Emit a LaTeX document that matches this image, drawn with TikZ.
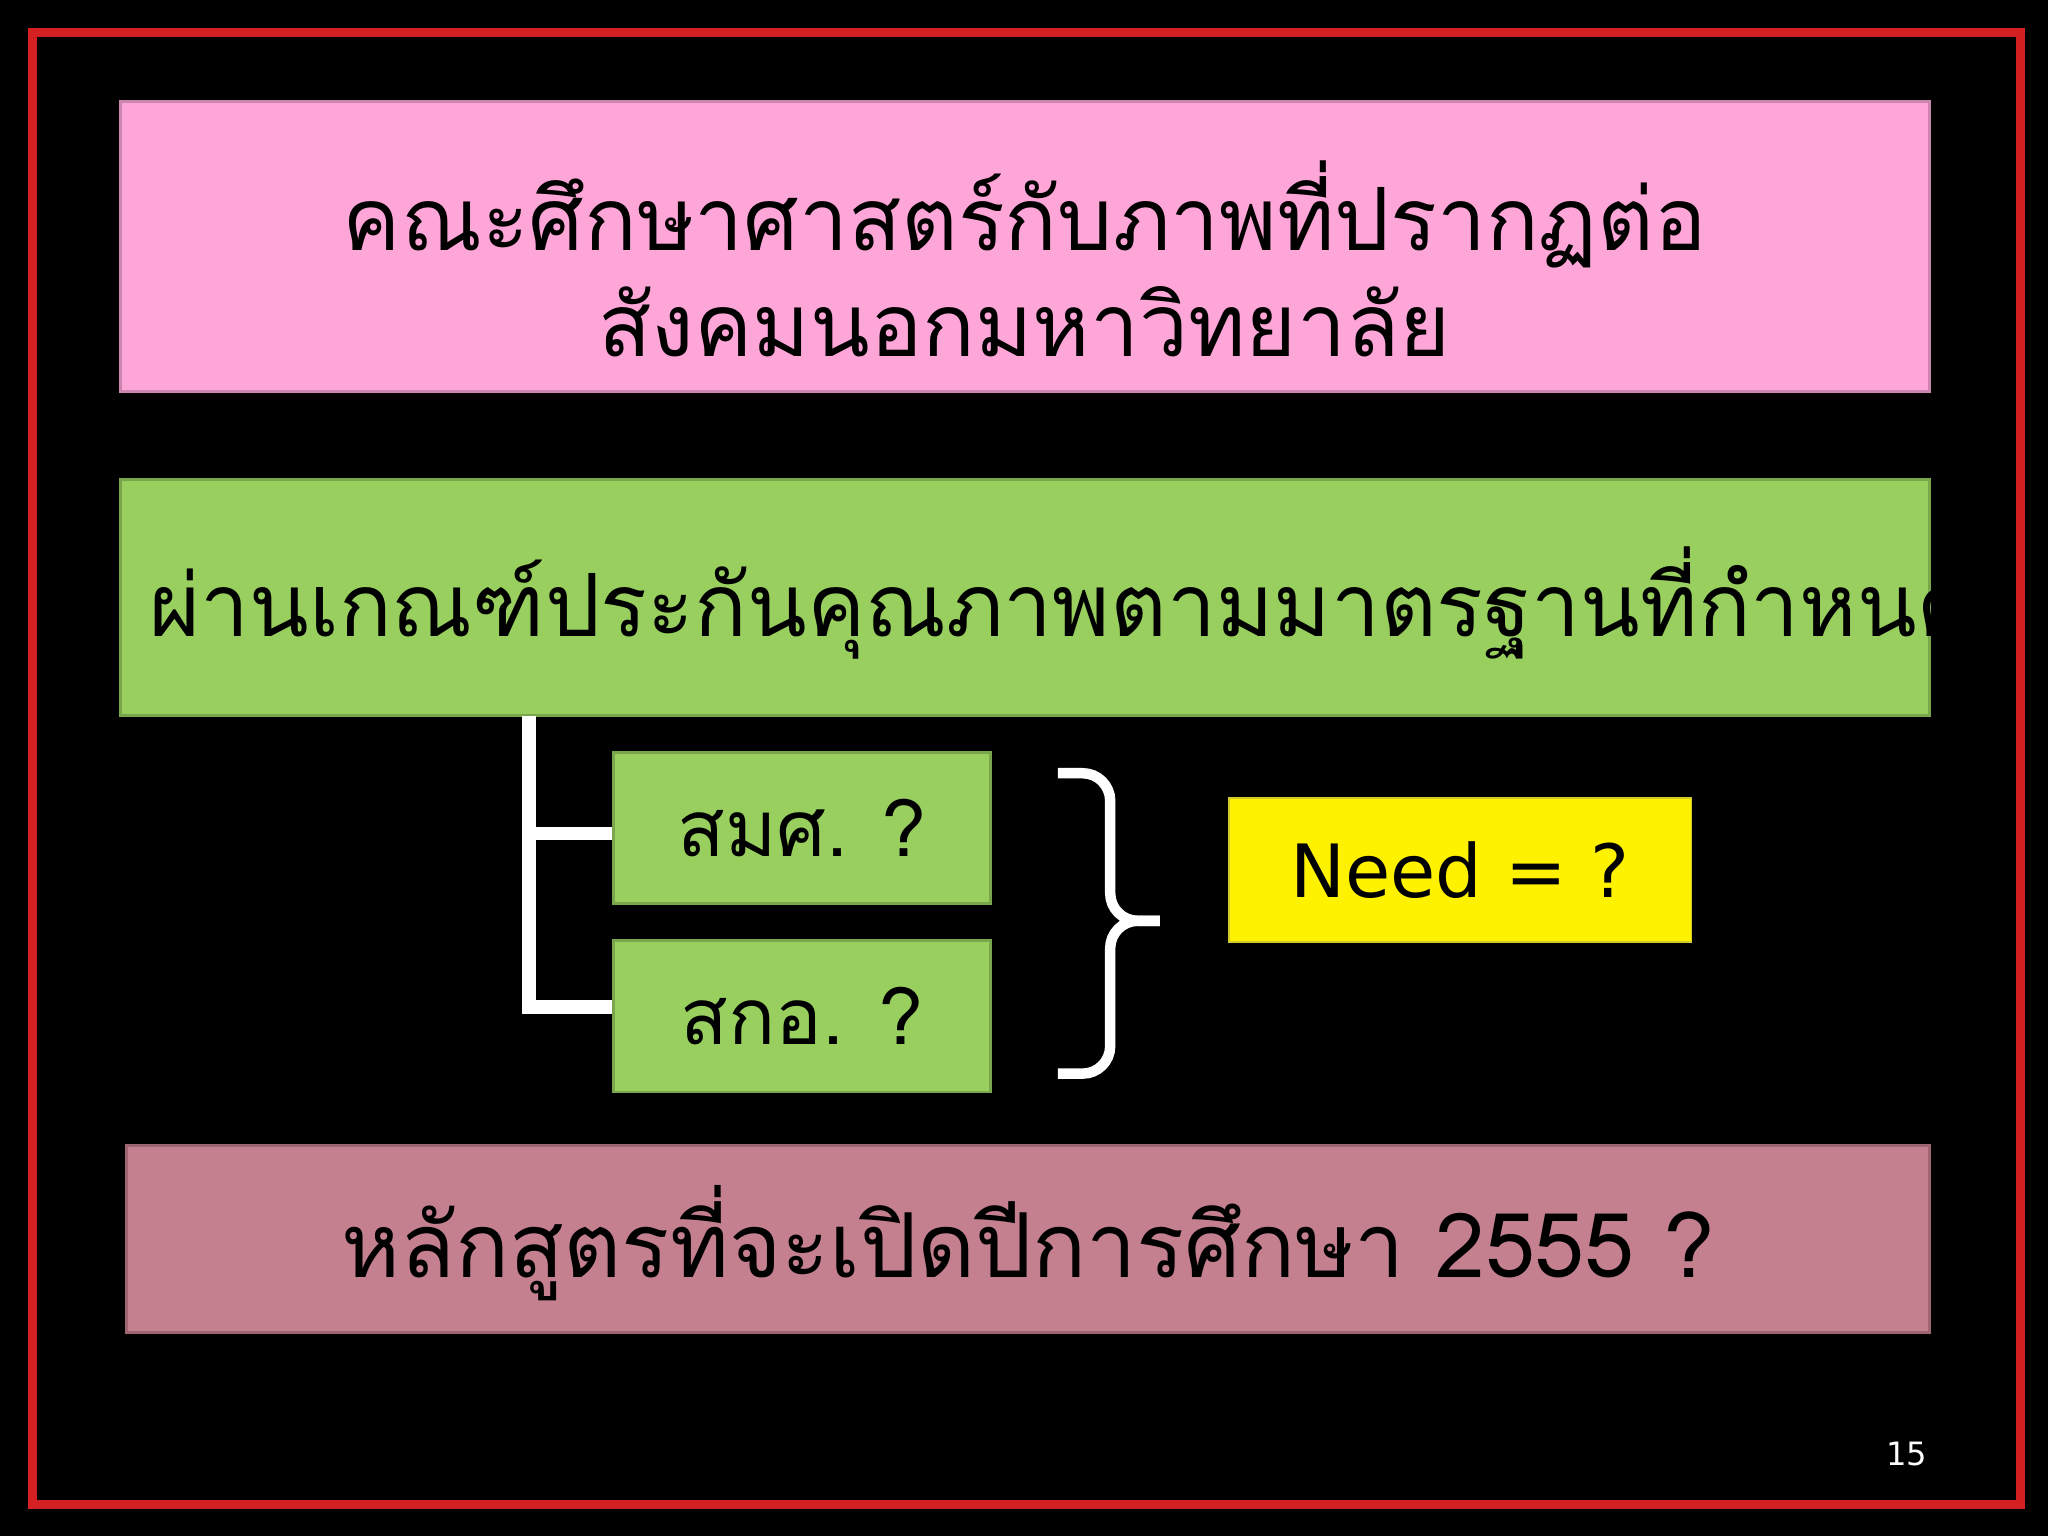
\documentclass[tikz,border=0pt]{standalone}
\usepackage{fontspec}
\newfontfamily\thai[Script=Thai]{Loma}
\setmainfont{DejaVu Sans}
\definecolor{pinkbox}{HTML}{FFA6D9}
\definecolor{greenbox}{HTML}{98CF5E}
\definecolor{rosebox}{HTML}{C4808F}
\definecolor{frame}{HTML}{D42020}
\tikzset{
 box/.style={draw=#1!80!black, line width=0.6pt, fill=#1, inner sep=0pt},
 conn/.style={draw=white, line width=1.0mm},
 bigtxt/.style={font=\thai\fontsize{19}{23}\selectfont, text=black}
}
\begin{document}
\begin{tikzpicture}[x=0.01cm,y=-0.01cm]
\fill[black] (0,0) rectangle (1568,1176);
\useasboundingbox (0,0) rectangle (1568,1176);
\draw[frame, line width=0.7mm] (25,25) rectangle (1547,1152);
% title
\path[box=pinkbox] (92,78) rectangle (1477,300);
\node[bigtxt, align=center] (title) at (784.5,198) {คณะศึกษาศาสตร์กับภาพที่ปรากฏต่อ\\สังคมนอกมหาวิทยาลัย};
% green
\path[box=greenbox] (92,367) rectangle (1477,548);
\node[bigtxt, anchor=west] (crit) at (102,462) {ผ่านเกณฑ์ประกันคุณภาพตามมาตรฐานที่กำหนด};
\node[box=greenbox, minimum width=2.88cm, minimum height=1.16cm, font=\thai\fontsize{17}{20}\selectfont] (smsh) at (614,634) {สมศ. ?};
\node[box=greenbox, minimum width=2.88cm, minimum height=1.16cm, font=\thai\fontsize{17}{20}\selectfont] (skor) at (614,778) {สกอ. ?};
\coordinate (top) at (405,548);
\coordinate (j1) at (405,638);
\coordinate (j2) at (405,771);
\draw[conn] (top) -- (j2) -- (skor.west |- j2);
\draw[conn] (j1) -- (smsh.west |- j1);
% brace
\draw[white, line width=0.8mm, rounded corners=6pt] (810,592) -- (850,592) -- (850,705) -- (888,705);
\draw[white, line width=0.8mm, rounded corners=6pt] (888,705) -- (850,705) -- (850,822) -- (810,822);
% need
\node[draw=yellow!80!black, fill=yellow, minimum width=3.54cm, minimum height=1.10cm, font=\fontsize{16}{19}\selectfont] (need) at (1118,666) {Need = ?};
% bottom
\path[box=rosebox] (97,877) rectangle (1477,1020);
\node[font=\thai\fontsize{19.5}{23}\selectfont] (course) at (787,952) {หลักสูตรที่จะเปิดปีการศึกษา 2555 ?};
\node[text=white, font=\fontsize{7}{8}\selectfont] (num) at (1460,1113) {15};
\end{tikzpicture}
\end{document}
